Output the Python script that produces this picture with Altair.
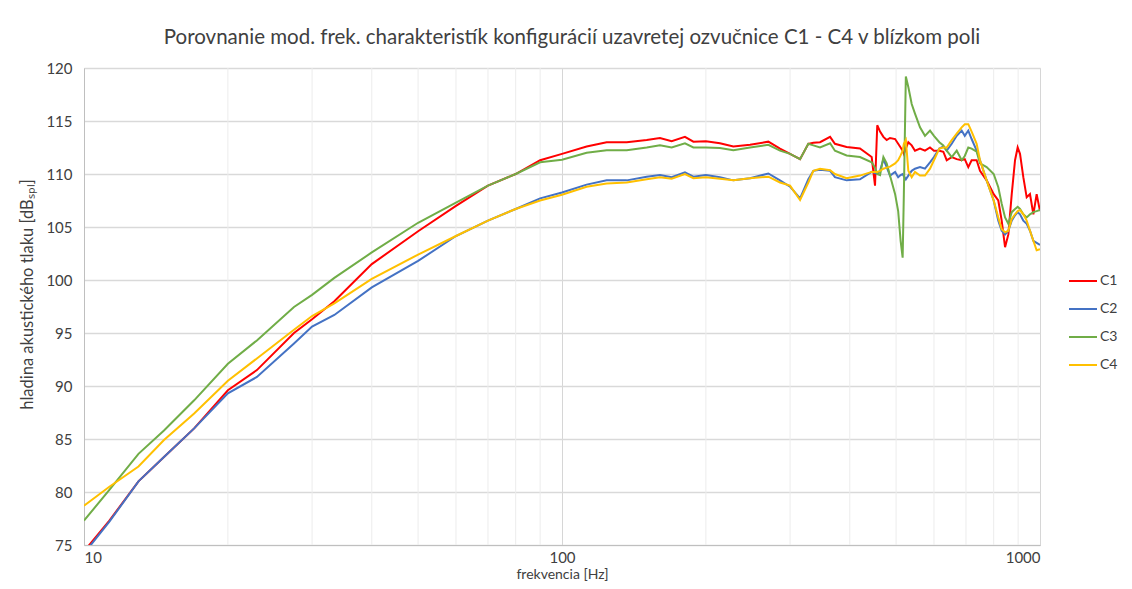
import altair as alt
import pandas as pd

freq = [10, 11.3, 13, 14.7, 17, 20, 23, 27.5, 30, 33.4, 40, 50, 60, 70, 80, 90, 100,
        112.6, 124, 136.6, 150.4, 160.3, 169.6, 180.8, 188.3, 200, 214, 228.3, 247.4,
        270.2, 285.8, 300, 314.8, 327.6, 335.6, 346.6, 363.8, 372.4, 393.9, 420.1,
        444.5, 451.7, 456.6, 462.8, 470.3, 477.8, 485.5, 497.6, 505, 511, 516, 519,
        524, 530.3, 539, 547.6, 561, 574.6, 588.7, 600, 615.8, 627.7, 638, 653.6,
        669.5, 685.7, 696, 707.9, 719.4, 737, 749, 773.3, 800, 818, 831.5, 845.1,
        858.6, 872.7, 886.7, 898, 908.2, 922.8, 937.9, 952.9, 968.5, 984, 1000]

c1 = [74.4, 77.3, 81.0, 83.3, 86.0, 89.6, 91.5, 95.0, 96.3, 98.0, 101.5, 104.6, 107.0,
      108.9, 110.0, 111.3, 111.9, 112.6, 113.0, 113.0, 113.2, 113.4, 113.1, 113.5,
      113.05, 113.1, 112.9, 112.6, 112.75, 113.05, 112.4, 111.9, 111.4, 112.85,
      112.95, 113.0, 113.5, 112.85, 112.55, 112.4, 111.6, 108.9, 114.6, 114.0, 113.5,
      113.2, 113.4, 113.3, 112.85, 112.5, 112.2, 111.9, 112.4, 113.0, 112.7, 112.2,
      112.4, 112.2, 112.5, 112.2, 112.2, 112.1, 111.3, 111.6, 111.4, 111.3, 111.4,
      110.65, 111.3, 111.3, 110.3, 109.4, 108.1, 107.5, 105.6, 103.1, 104.3, 108.1,
      111.3, 112.5, 111.9, 109.7, 107.8, 108.1, 106.2, 108.1, 106.5]

c2 = [74.2, 77.2, 81.0, 83.3, 86.0, 89.3, 90.85, 94.0, 95.6, 96.7, 99.3, 101.8, 104.15,
      105.6, 106.7, 107.7, 108.25, 109.0, 109.4, 109.4, 109.75, 109.9, 109.7, 110.15,
      109.75, 109.9, 109.7, 109.4, 109.6, 110.05, 109.4, 108.8, 107.7, 109.5, 110.3,
      110.4, 110.3, 109.7, 109.4, 109.5, 110.2, 110.1, 110.0, 110.3, 111.4, 110.65,
      109.85, 110.2, 109.7, 109.9, 110.0, 109.8, 109.5, 109.85, 110.3, 110.5, 110.65,
      110.5, 111.1, 111.6, 112.4, 112.6, 112.2, 112.85, 113.6, 114.1, 113.6, 114.1,
      113.3, 112.2, 111.3, 109.4, 107.5, 105.6, 104.65, 104.3, 104.65, 105.6, 106.1,
      106.4, 106.2, 105.6, 105.3, 104.65, 103.7, 103.5, 103.3]

c3 = [77.3, 80.2, 83.6, 85.8, 88.65, 92.1, 94.3, 97.45, 98.6, 100.2, 102.6, 105.4,
      107.3, 108.9, 110.0, 111.1, 111.35, 112.0, 112.25, 112.25, 112.5, 112.7, 112.5,
      112.9, 112.5, 112.5, 112.45, 112.25, 112.5, 112.75, 112.2, 111.9, 111.4, 112.85,
      112.7, 112.5, 112.9, 112.2, 111.75, 111.6, 111.1, 110.6, 110.0, 109.9, 111.6,
      111.0, 109.85, 108.1, 106.5, 103.7, 102.1, 108.1, 119.2, 118.2, 116.6, 115.7,
      114.4, 113.6, 114.1, 113.6, 113.0, 112.7, 112.2, 111.6, 112.2, 111.3, 111.7,
      112.5, 112.4, 112.1, 111.0, 110.65, 110.0, 108.75, 107.2, 105.9, 105.3, 106.4,
      106.7, 106.9, 106.7, 106.2, 105.9, 106.2, 106.4, 106.5, 106.6]

c4 = [78.7, 80.5, 82.4, 84.9, 87.4, 90.5, 92.6, 95.3, 96.6, 97.8, 100.1, 102.4, 104.15,
      105.6, 106.7, 107.5, 108.05, 108.8, 109.1, 109.2, 109.5, 109.7, 109.55, 110.0,
      109.6, 109.7, 109.55, 109.4, 109.6, 109.75, 109.2, 108.9, 107.55, 109.2, 110.3,
      110.5, 110.35, 110.0, 109.6, 109.85, 110.2, 110.2, 110.2, 110.3, 110.5, 110.6,
      110.7, 111.0, 111.3, 111.75, 112.2, 112.85, 113.2, 110.3, 109.7, 110.2, 109.85,
      109.85, 110.5, 111.3, 112.4, 112.5, 112.5, 113.2, 113.8, 114.4, 114.7, 114.7,
      114.0, 112.85, 111.3, 109.4, 107.5, 105.9, 104.8, 104.5, 104.65, 105.75, 106.2,
      106.5, 106.6, 106.2, 105.6, 104.65, 103.7, 102.8, 102.9]

series = ["C1", "C2", "C3", "C4"]
colors = ["#ff0000", "#4472c4", "#70ad47", "#ffc000"]
minor_ticks = [20, 30, 40, 50, 60, 70, 80, 90, 200, 300, 400, 500, 600, 700, 800, 900]
major_ticks = [10, 100, 1000]
y_ticks = [75, 80, 85, 90, 95, 100, 105, 110, 115, 120]

rows = []
for name, vals in zip(series, [c1, c2, c3, c4]):
    for f, v in zip(freq, vals):
        rows.append({"f": f, "v": v, "s": name})
df = pd.DataFrame(rows)
minor_df = pd.DataFrame({"f": minor_ticks})

FONT = "Lato"
x_scale = alt.Scale(type="log", domain=[10, 1000])
y_scale = alt.Scale(domain=[75, 120], nice=False, zero=False)

grid = alt.Chart(minor_df).mark_rule(color="#ececec", strokeWidth=1).encode(
    x=alt.X("f:Q", scale=x_scale)
)

lines = alt.Chart(df).mark_line(strokeWidth=2, clip=True).encode(
    x=alt.X("f:Q", scale=x_scale,
            axis=alt.Axis(values=major_ticks, title="frekvencia [Hz]", grid=True,
                          gridColor="#d6d6d6", gridWidth=1, ticks=False,
                          domainColor="#bfbfbf", labelFontSize=15, labelColor="#404040",
                          labelPadding=5, titleFontSize=14, titleColor="#404040",
                          titleFontWeight="normal", titlePadding=2, format="d",
                          labelFont=FONT, titleFont=FONT)),
    y=alt.Y("v:Q", scale=y_scale,
            axis=alt.Axis(values=y_ticks, title="hladina akustického tlaku [dBₛₚₗ]",
                          grid=True, gridColor="#d9d9d9", gridWidth=1.5, ticks=False,
                          domainColor="#bfbfbf", labelFontSize=15, labelColor="#404040",
                          labelPadding=12, titleFontSize=16.5, titleColor="#404040",
                          titleFontWeight="normal", titlePadding=10, titleY=226,
                          labelFont=FONT, titleFont=FONT)),
    color=alt.Color("s:N", scale=alt.Scale(domain=series, range=colors),
                    legend=alt.Legend(title=None, orient="none", legendX=984, legendY=198,
                                      symbolType="stroke", symbolSize=784,
                                      symbolStrokeWidth=2, labelFontSize=14,
                                      labelColor="#404040", labelFont=FONT,
                                      rowPadding=6, labelOffset=2)),
)

chart = alt.layer(grid, lines).properties(
    width=956, height=477,
    title=alt.TitleParams("Porovnanie mod. frek. charakteristík konfigurácií uzavretej ozvučnice C1 - C4 v blízkom poli",
                          fontSize=20.5, font=FONT, fontWeight="normal", color="#404040",
                          anchor="middle", offset=13, dx=10),
    autosize=alt.AutoSizeParams(type="none"),
    padding={"left": 76, "top": 60, "right": 84, "bottom": 36},
).configure_view(stroke=None).configure(background="white")

chart.save("out.html", embed_options={"renderer": "svg", "actions": False})
